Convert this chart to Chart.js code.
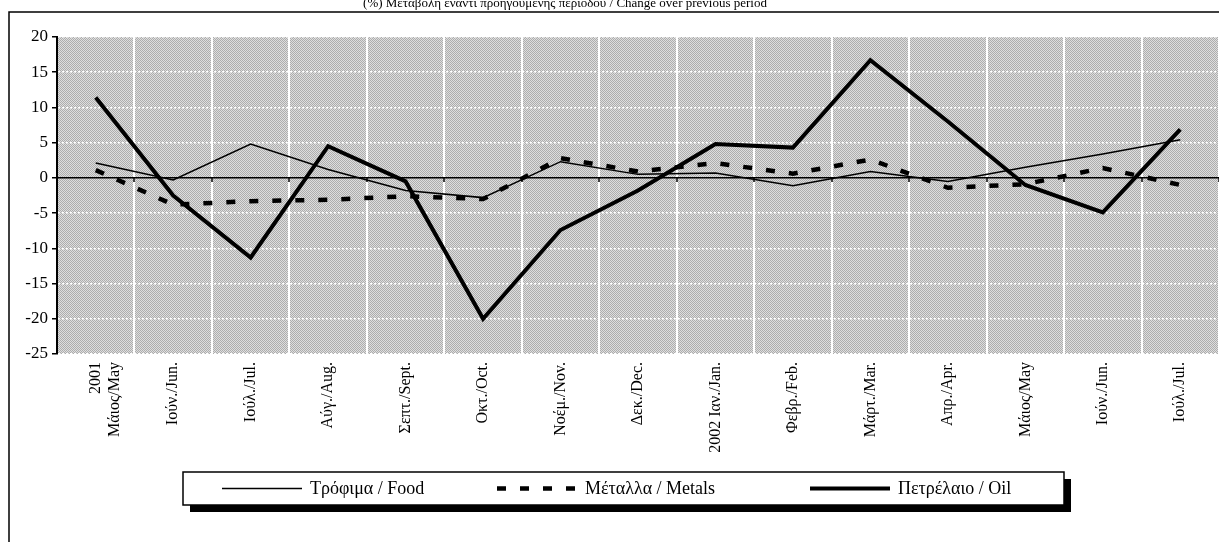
<!DOCTYPE html>
<html>
<head>
<meta charset="utf-8">
<script src="https://cdn.jsdelivr.net/npm/chart.js@4"></script>
<style>
  html, body { margin: 0; padding: 0; background: #fff; }
  #wrap { width: 1219px; height: 542px; }
</style>
</head>
<body>
<div id="wrap"><canvas id="grafico" width="1219" height="542"></canvas></div>
<script>
// Μήνες (άξονας Χ)
var meses = [['2001', 'Μάιος/May'], 'Ιούν./Jun.', 'Ιούλ./Jul.', 'Αύγ./Aug.', 'Σεπτ./Sept.', 'Οκτ./Oct.',
  'Νοέμ./Nov.', 'Δεκ./Dec.', '2002 Ιαν./Jan.', 'Φεβρ./Feb.', 'Μάρτ./Mar.', 'Απρ./Apr.',
  'Μάιος/May', 'Ιούν./Jun.', 'Ιούλ./Jul.'];

// Μεταβολή (%) ανά κατηγορία
var trofima = [2.1, -0.3, 4.8, 1.2, -1.8, -2.8, 2.3, 0.5, 0.7, -1.1, 0.9, -0.5, 1.5, 3.4, 5.4];
var metalla = [1.1, -3.8, -3.3, -3.1, -2.6, -3.0, 2.8, 0.9, 2.1, 0.6, 2.6, -1.4, -0.9, 1.4, -1.0];
var petrelaio = [11.4, -2.5, -11.3, 4.5, -0.5, -20.0, -7.4, -1.8, 4.8, 4.3, 16.7, 8.0, -1.0, -4.9, 6.9];

// eixo Y
var yMin = -25, yMax = 20, yStep = 5;

var nomes = ['Τρόφιμα / Food', 'Μέταλλα / Metals', 'Πετρέλαιο / Oil'];
var titulo = '(%) Μεταβολή έναντι προηγούμενης περιόδου / Change over previous period';

// fundo pontilhado (padrão do Excel)
var tile = document.createElement('canvas');
tile.width = 2; tile.height = 2;
var tg = tile.getContext('2d');
tg.fillStyle = '#dedede'; tg.fillRect(0, 0, 2, 2);
tg.fillStyle = '#adadad'; tg.fillRect(0, 0, 1, 1); tg.fillRect(1, 1, 1, 1);

var moldura = {
  id: 'moldura',
  beforeDraw: function (chart) {
    var ctx = chart.ctx, a = chart.chartArea;
    ctx.save();
    ctx.fillStyle = '#fff';
    ctx.fillRect(0, 0, chart.width, chart.height);
    // borda externa
    ctx.strokeStyle = '#000';
    ctx.lineWidth = 1.5;
    ctx.beginPath();
    ctx.moveTo(9, chart.height);
    ctx.lineTo(9, 12);
    ctx.lineTo(chart.width, 12);
    ctx.stroke();
    // area do grafico
    ctx.fillStyle = ctx.createPattern(tile, 'repeat');
    ctx.fillRect(a.left, a.top, a.right - a.left, a.bottom - a.top);
    // titulo (cortado em cima)
    ctx.fillStyle = '#000';
    ctx.font = '13px "Liberation Serif"';
    ctx.textAlign = 'center';
    ctx.textBaseline = 'alphabetic';
    ctx.fillText(titulo, 565, 7);
    ctx.restore();
  },
  beforeDatasetsDraw: function (chart) {
    // pequenos tracos no eixo zero
    var ctx = chart.ctx, xs = chart.scales.x, ys = chart.scales.y;
    var y0 = ys.getPixelForValue(0);
    ctx.save();
    ctx.strokeStyle = '#000';
    ctx.lineWidth = 1.5;
    for (var i = 0; i <= meses.length; i++) {
      var px = Math.round(xs.getPixelForValue(i - 0.5));
      ctx.beginPath();
      ctx.moveTo(px, y0);
      ctx.lineTo(px, y0 + 4);
      ctx.stroke();
    }
    ctx.restore();
  },
  afterDraw: function (chart) {
    // legenda com sombra
    var ctx = chart.ctx;
    var bx = 183, by = 472, bw = 881, bh = 33;
    var inicio = [222, 497, 810];
    ctx.save();
    ctx.fillStyle = '#000';
    ctx.fillRect(bx + 7, by + 7, bw, bh);
    ctx.fillStyle = '#fff';
    ctx.fillRect(bx, by, bw, bh);
    ctx.strokeStyle = '#000';
    ctx.lineWidth = 1.5;
    ctx.strokeRect(bx, by, bw, bh);
    var ym = by + bh / 2;
    chart.data.datasets.forEach(function (ds, i) {
      var x = inicio[i];
      ctx.strokeStyle = ds.borderColor;
      ctx.lineWidth = ds.borderWidth;
      ctx.setLineDash(ds.borderDash || []);
      ctx.beginPath();
      ctx.moveTo(x, ym);
      ctx.lineTo(x + 80, ym);
      ctx.stroke();
      ctx.setLineDash([]);
      ctx.fillStyle = '#000';
      ctx.font = '18px "Liberation Serif"';
      ctx.textAlign = 'left';
      ctx.textBaseline = 'middle';
      ctx.fillText(ds.label, x + 88, ym + 1);
    });
    ctx.restore();
  }
};

var ctx = document.getElementById('grafico').getContext('2d');
var chart = new Chart(ctx, {
  type: 'line',
  data: {
    labels: meses,
    datasets: [
      {
        label: nomes[0],
        data: trofima,
        borderColor: '#000',
        borderWidth: 1.5,
        pointRadius: 0,
        tension: 0,
        fill: false
      },
      {
        label: nomes[1],
        data: metalla,
        borderColor: '#000',
        borderWidth: 4.5,
        borderDash: [9, 14],
        pointRadius: 0,
        tension: 0,
        fill: false
      },
      {
        label: nomes[2],
        data: petrelaio,
        borderColor: '#000',
        borderWidth: 4,
        pointRadius: 0,
        tension: 0,
        fill: false
      }
    ]
  },
  options: {
    responsive: false,
    animation: false,
    devicePixelRatio: 1,
    layout: { padding: { top: 37, left: 0, right: 0, bottom: 0 } },
    plugins: {
      legend: { display: false },
      tooltip: { enabled: false }
    },
    scales: {
      x: {
        offset: true,
        grid: { offset: true, color: '#fff', lineWidth: 2, drawTicks: false },
        border: { display: false },
        ticks: {
          autoSkip: false,
          minRotation: 90,
          maxRotation: 90,
          padding: 8,
          color: '#000',
          font: { family: 'Liberation Serif', size: 16 }
        },
        afterFit: function (s) { s.height = 188; }
      },
      y: {
        min: yMin,
        max: yMax,
        ticks: {
          stepSize: yStep,
          padding: 4,
          color: '#000',
          font: { family: 'Liberation Serif', size: 17 }
        },
        grid: {
          color: function (c) { return c.tick && c.tick.value === 0 ? '#000' : '#fff'; },
          lineWidth: 1.5,
          tickColor: '#000',
          tickLength: 5,
          tickWidth: 1.5
        },
        border: {
          color: '#000',
          width: 2,
          dash: function (c) { return c.tick && c.tick.value === 0 ? [] : [2, 2]; }
        },
        afterFit: function (s) { s.width = 57; }
      }
    }
  },
  plugins: [moldura]
});
</script>
</body>
</html>
